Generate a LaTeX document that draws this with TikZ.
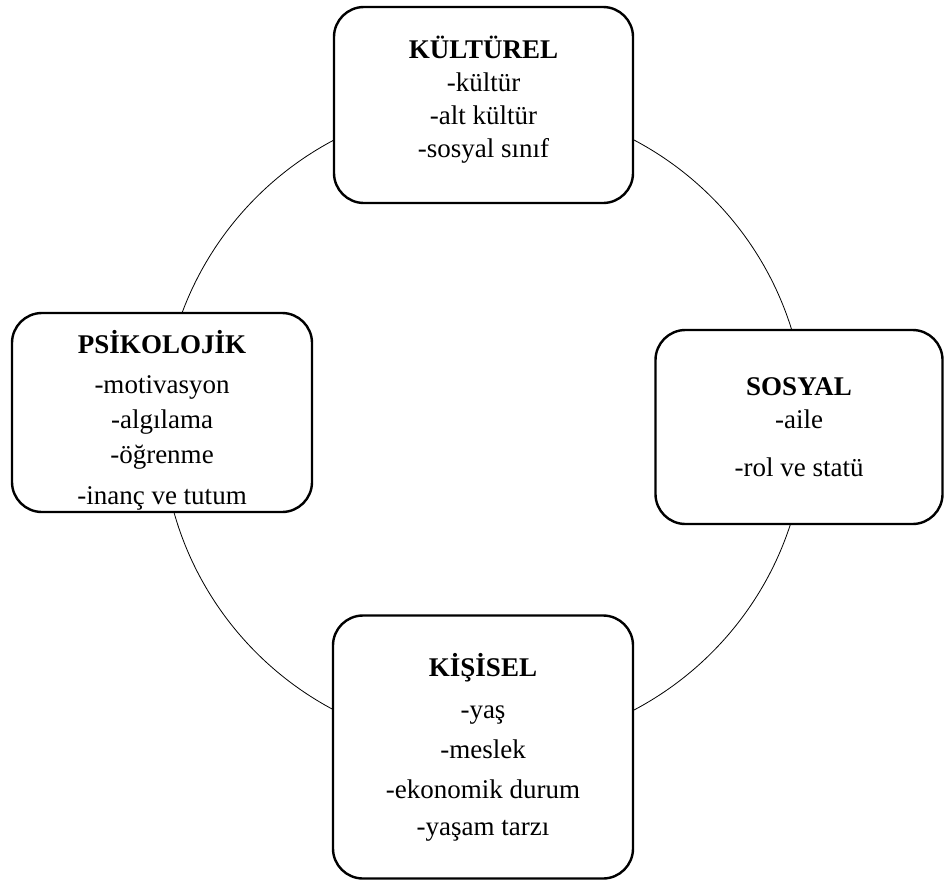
\documentclass[tikz,border=0pt]{standalone}
\usepackage{fontspec}
\setmainfont{Liberation Serif}
\usepackage{tikz}
\usetikzlibrary{positioning}
\tikzset{
	x=1pt, y=-1pt, % pixel-like coordinates, y going down
	factor/.style={draw, line width=2.4pt, rounded corners=30pt, fill=white, align=center, font=\fontsize{27}{33}\selectfont, inner sep=0pt}, % the four boxes
	ring/.style={draw, circle, line width=0.8pt, inner sep=0pt, minimum size=644pt}, % the circle behind them
}
\begin{document}
\begin{tikzpicture}
	\useasboundingbox (0,0) rectangle (944,881);
	\node[ring] at (484,425) (ring) {};
	\node[factor, minimum width=299pt, minimum height=196pt] at (483.5,105) (kultur) {\textbf{KÜLTÜREL}\\-kültür\\-alt kültür\\-sosyal sınıf\rule[-17pt]{0pt}{17pt}};
	\node[factor, minimum width=300pt, minimum height=199pt] at (162,412.5) (psiko) {\rule{0pt}{38pt}\textbf{PSİKOLOJİK}\\[7pt]-motivasyon\\[2pt]-algılama\\[2pt]-öğrenme\\[8pt]-inanç ve tutum};
	\node[factor, minimum width=287pt, minimum height=194pt] at (799,427) (sosyal) {\textbf{SOSYAL}\\-aile\\[15pt]-rol ve statü};
	\node[factor, minimum width=300pt, minimum height=263pt] at (483,747) (kisisel) {\textbf{KİŞİSEL}\\[9pt]-yaş\\[7pt]-meslek\\[7pt]-ekonomik durum\\[4pt]-yaşam tarzı};
\end{tikzpicture}
\end{document}
